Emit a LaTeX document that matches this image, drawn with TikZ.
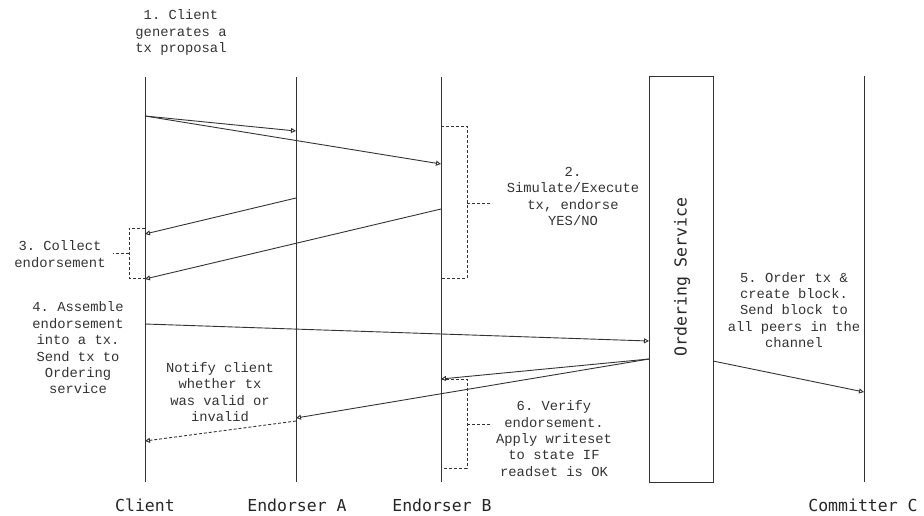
\documentclass[tikz,border=0pt]{standalone}
\usepackage{fontspec}
\setmonofont{Liberation Mono}
\newfontfamily\labelfont{DejaVu Sans Mono}
\usetikzlibrary{arrows.meta}
\begin{document}
\begin{tikzpicture}[x=1pt,y=-1pt,
  life/.style={draw=black!80, line width=0.9pt},
  msg/.style={draw=black!80, line width=0.9pt, -{Triangle[open,length=5pt,width=5pt]}},
  reply/.style={msg, dash pattern=on 3pt off 2pt},
  brk/.style={draw=black!80, line width=0.9pt, dash pattern=on 3pt off 2pt},
  note/.style={font=\ttfamily\fontsize{13.8}{16.4}\selectfont, text=black!80, align=center, inner sep=0pt},
  actor/.style={font=\labelfont\fontsize{16.5}{19}\selectfont, text=black!85, inner sep=0pt}]
\useasboundingbox (0,0) rectangle (924,515);

% lifelines
\coordinate (cT) at (145,77);  \coordinate (cB) at (145,482);
\coordinate (aT) at (296,77);  \coordinate (aB) at (296,482);
\coordinate (bT) at (441,77);  \coordinate (bB) at (441,482);
\coordinate (kT) at (864,76);  \coordinate (kB) at (864,482);
\draw[life] (cT) -- (cB);
\draw[life] (aT) -- (aB);
\draw[life] (bT) -- (bB);
\draw[life] (kT) -- (kB);
\node[draw=black!80, line width=0.9pt, minimum width=64pt, minimum height=406pt, inner sep=0pt] (ord) at (681,279) {};
\node[actor, rotate=90] (ordlbl) at (682,277) {Ordering Service};

% actor labels
\node[actor] (client) at (145,505) {Client};
\node[actor] (endA) at (297,505) {Endorser A};
\node[actor] (endB) at (442,505) {Endorser B};
\node[actor] (comm) at (863,505) {Committer C};

% message points
\coordinate (m1s) at (145,116);
\coordinate (m1a) at (296,131);
\coordinate (m1b) at (441,164);
\coordinate (r1a) at (296,198);
\coordinate (r1c) at (145,234);
\coordinate (r2b) at (441,209);
\coordinate (r2c) at (145,279);
\coordinate (m4c) at (145,324);
\coordinate (m4o) at (649,341);
\coordinate (o1)  at (649,359);
\coordinate (o1b) at (441,379);
\coordinate (o1a) at (296,418);
\coordinate (n1a) at (296,421);
\coordinate (n1c) at (145,441);
\coordinate (o5s) at (713,361);
\coordinate (o5k) at (864,392);

\draw[msg] (m1s) -- (m1a);
\draw[msg] (m1s) -- (m1b);
\draw[msg] (r1a) -- (r1c);
\draw[msg] (r2b) -- (r2c);
\draw[msg] (m4c) -- (m4o);
\draw[msg] (o1) -- (o1b);
\draw[msg] (o1) -- (o1a);
\draw[reply] (n1a) -- (n1c);
\draw[msg] (o5s) -- (o5k);

% brackets
\coordinate (bk1t) at (441,126); \coordinate (bk1b) at (467,278);
\draw[brk] (bk1t) -| (bk1b) -- (441,278);
\draw[brk] (467,203) -- (492,203);
\coordinate (bk2t) at (145,228); \coordinate (bk2b) at (129,278);
\draw[brk] (bk2t) -| (bk2b) -- (145,278);
\draw[brk] (129,253) -- (113,253);
\coordinate (bk3t) at (441,379); \coordinate (bk3b) at (467,468);
\draw[brk] (bk3t) -| (bk3b) -- (441,468);
\draw[brk] (467,424) -- (492,424);

% notes
\node[note] (n1) at (181,32.5) {1. Client\\generates a\\tx proposal};
\node[note] (n2) at (573,196.5) {2.\\Simulate/Execute\\tx, endorse\\YES/NO};
\node[note] (n3) at (60,254) {3. Collect\\endorsement};
\node[note] (n4) at (78,348) {4. Assemble\\endorsement\\into a tx.\\Send tx to\\Ordering\\service};
\node[note] (nn) at (220,392) {Notify client\\whether tx\\was valid or\\invalid};
\node[note] (n5) at (794,310) {5. Order tx \&\\create block.\\Send block to\\all peers in the\\channel};
\node[note] (n6) at (554,438.5) {6. Verify\\endorsement.\\Apply writeset\\to state IF\\readset is OK};
\end{tikzpicture}
\end{document}
